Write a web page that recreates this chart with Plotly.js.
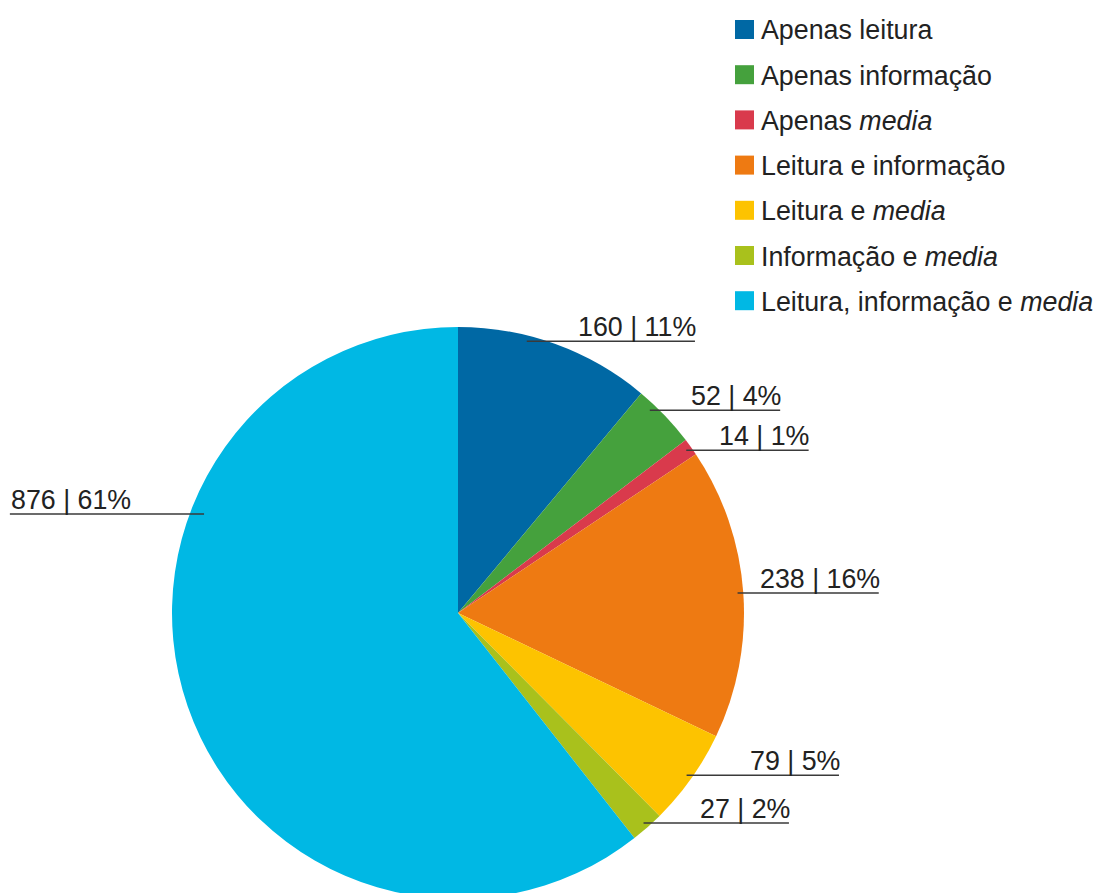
<!DOCTYPE html>
<html><head><meta charset="utf-8">
<script src="https://cdn.plot.ly/plotly-3.0.1.min.js"></script>
<style>html,body{margin:0;padding:0;overflow:hidden;background:#fff}#chart{width:1096px;height:1000px}</style>
</head><body><div id="chart"></div>
<script>
// ---- data ----
const categories = ['Apenas leitura','Apenas informação','Apenas <i>media</i>','Leitura e informação','Leitura e <i>media</i>','Informação e <i>media</i>','Leitura, informação e <i>media</i>'];
const values = [160, 52, 14, 238, 79, 27, 876];
const colors = ['#0068a4','#45a13d','#d93a4c','#ee7a12','#fdc300','#a9c11c','#00b8e4'];

// ---- layout config ----
const W = 1096, H = 1000;
const CX = 458, CY = 613, R = 286;
const FONT = 'Liberation Sans, Arial, Helvetica, sans-serif';
const FS = 26.8;
const TEXT_COLOR = '#222222';
const labelAngleOverride = {0: 14.2, 1: 43.4, 6: 291.3};
const labelRadiusOverride = {1: 0.976, 6: 0.953};
const labelGap = [50, 40, 32, 21, 62, 55, 74];
const legendX = 735, legendY0 = 29.5, legendStep = 45.2, legendBox = 19;

const px = x => x / W;
const py = y => 1 - y / H;

const total = values.reduce((a, b) => a + b, 0);
const ctx = document.createElement('canvas').getContext('2d');
ctx.font = FS + 'px ' + FONT;

const annotations = [];
const shapes = [];

let cum = 0;
values.forEach((v, i) => {
  const frac = v / total;
  let angle = (cum + frac / 2) * 360;
  cum += frac;
  if (labelAngleOverride[i] !== undefined) angle = labelAngleOverride[i];
  const rf = labelRadiusOverride[i] !== undefined ? labelRadiusOverride[i] : 0.98;
  const rad = angle * Math.PI / 180;
  const ax = CX + R * rf * Math.sin(rad);
  const ay = CY - R * rf * Math.cos(rad);
  const text = v + ' | ' + Math.round(frac * 100) + '%';
  const tw = ctx.measureText(text).width;
  const right = Math.sin(rad) >= 0;
  let x0, x1, tx;
  if (right) { x0 = ax; tx = ax + labelGap[i]; x1 = tx + tw; }
  else { x1 = ax; tx = ax - labelGap[i] - tw; x0 = tx; }
  shapes.push({type: 'line', xref: 'paper', yref: 'paper', x0: px(x0), x1: px(x1), y0: py(ay), y1: py(ay),
    line: {color: '#3a3a3a', width: 1.5}});
  annotations.push({xref: 'paper', yref: 'paper', x: px(tx), y: py(ay), xanchor: 'left', yanchor: 'bottom',
    text: text, showarrow: false, font: {family: FONT, size: FS, color: TEXT_COLOR}, borderpad: 0, yshift: -2});
});

categories.forEach((c, i) => {
  const cy = legendY0 + i * legendStep;
  shapes.push({type: 'rect', xref: 'paper', yref: 'paper', x0: px(legendX), x1: px(legendX + legendBox),
    y0: py(cy - legendBox / 2), y1: py(cy + legendBox / 2), fillcolor: colors[i], line: {width: 0}});
  annotations.push({xref: 'paper', yref: 'paper', x: px(legendX + legendBox + 6), y: py(cy), xanchor: 'left', yanchor: 'middle',
    text: c, showarrow: false, font: {family: FONT, size: FS, color: TEXT_COLOR}, borderpad: 0, yshift: -1});
});

const trace = {
  type: 'pie',
  labels: categories,
  values: values,
  sort: false,
  direction: 'clockwise',
  rotation: 0,
  textinfo: 'none',
  hoverinfo: 'label+value+percent',
  marker: {colors: colors, line: {width: 0}},
  domain: {x: [px(CX - R), px(CX + R)], y: [py(CY + R), py(CY - R)]},
  showlegend: false
};

Plotly.newPlot('chart', [trace], {
  width: W, height: H,
  margin: {l: 0, r: 0, t: 0, b: 0},
  paper_bgcolor: '#ffffff',
  showlegend: false,
  annotations: annotations,
  shapes: shapes
}, {displayModeBar: false, staticPlot: true});
</script>
</body></html>
